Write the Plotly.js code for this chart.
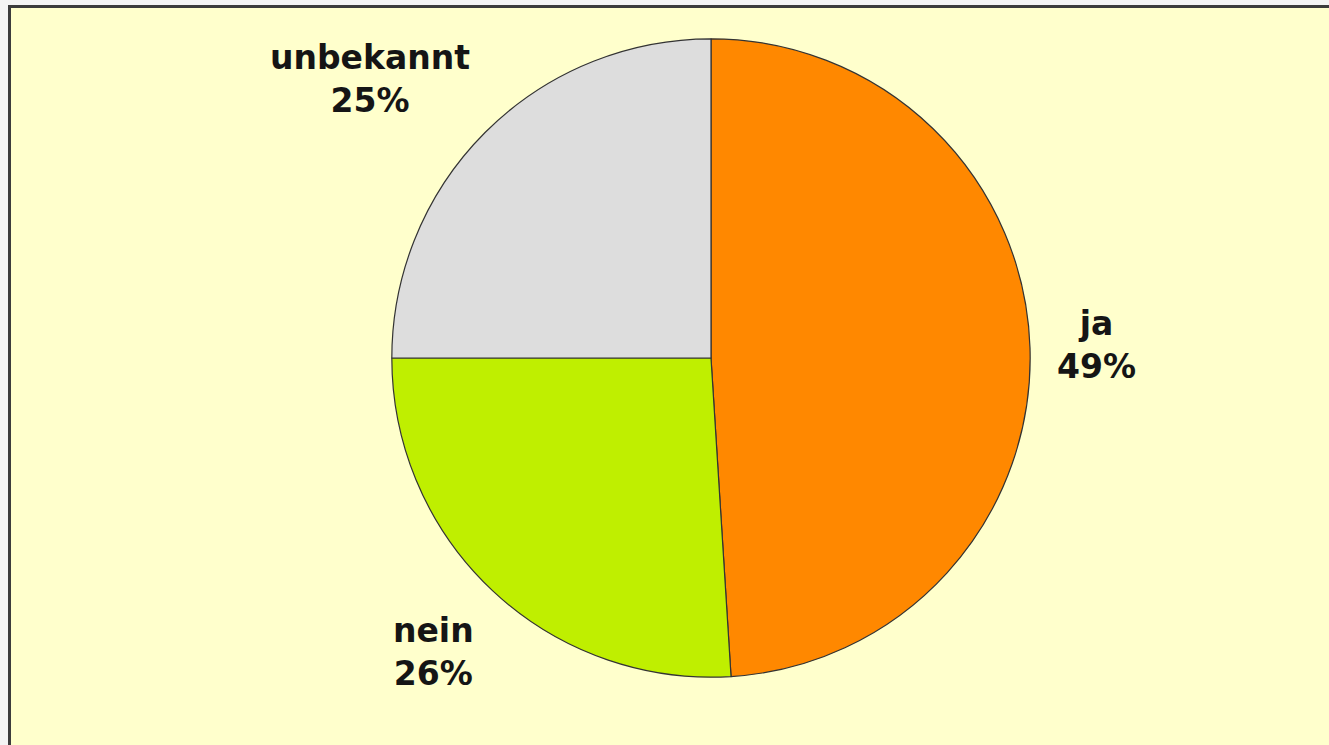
<!DOCTYPE html>
<html>
<head>
<meta charset="utf-8">
<script src="https://cdn.plot.ly/plotly-3.0.1.min.js"></script>
<style>
  html, body { margin: 0; padding: 0; background: #f4f4f4; overflow: hidden; }
  #frame { position: absolute; left: 8px; top: 5px; width: 1330px; height: 750px;
           border-left: 3px solid #3c3c3c; border-top: 3px solid #3c3c3c; background: #FFFFCC; }
  #chart { position: absolute; left: 0; top: 0; width: 1320px; height: 739px; }
</style>
</head>
<body>
<div id="frame"><div id="chart"></div></div>
<script>
const labels = ["ja", "nein", "unbekannt"];
const values = [49, 26, 25];
const colors = ["#FF8800", "#BFEF00", "#DDDDDD"];

const trace = {
  type: "pie",
  labels: labels,
  values: values,
  sort: false,
  direction: "clockwise",
  rotation: 0,
  marker: { colors: colors, line: { color: "#333333", width: 1.2 } },
  textinfo: "none",
  hoverinfo: "label+percent",
  showlegend: false,
  domain: { x: [0.2885, 0.7721], y: [0.0940, 0.9588] }
};

const labelPos = [
  { x: 0.8227, y: 0.544 },
  { x: 0.3197, y: 0.128 },
  { x: 0.272, y: 0.904 }
];

const annotations = labels.map((l, i) => ({
  xref: "paper", yref: "paper",
  x: labelPos[i].x, y: labelPos[i].y,
  xanchor: "center", yanchor: "middle",
  showarrow: false,
  align: "center",
  text: l + "<br>" + values[i] + "%",
  font: { family: "DejaVu Sans", size: 33, color: "#151515", weight: "bold" }
}));

const layout = {
  width: 1320, height: 739,
  margin: { l: 0, r: 0, t: 0, b: 0 },
  paper_bgcolor: "#FFFFCC",
  plot_bgcolor: "#FFFFCC",
  annotations: annotations
};

Plotly.newPlot("chart", [trace], layout, { displayModeBar: false, staticPlot: true });
</script>
</body>
</html>
